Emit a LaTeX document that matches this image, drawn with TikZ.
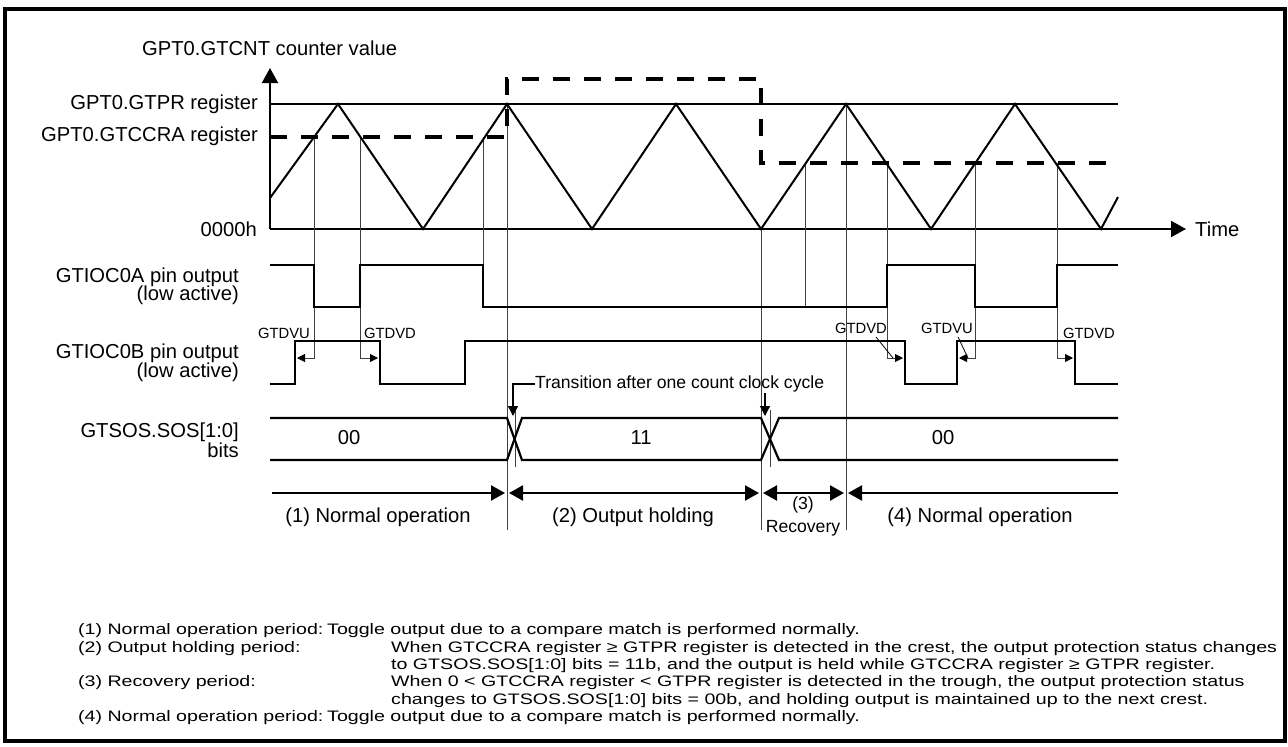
\documentclass[tikz,border=0pt]{standalone}
\usepackage{fontspec}
\setmainfont{Liberation Sans}
\newfontfamily\notefont[FakeStretch=1.29]{Liberation Sans}
\usetikzlibrary{arrows.meta}
\begin{document}
\begin{tikzpicture}[x=1pt,y=-1pt,
  lab/.style={font=\fontsize{20.2}{22}\selectfont, inner sep=0pt},
  small/.style={font=\fontsize{14.8}{16}\selectfont, inner sep=0pt},
  mid/.style={font=\fontsize{17.6}{19}\selectfont, inner sep=0pt},
  note/.style={font=\notefont\fontsize{15.2}{17}\selectfont, inner sep=0pt, anchor=base west},
  wave/.style={line width=2pt, line join=miter},
  sig/.style={line width=2.4pt, line join=miter},
  bus/.style={line width=2.2pt, line join=miter},
  guide/.style={line width=0.9pt, black!75},
  cmp/.style={line width=4pt, dash pattern=on 17pt off 14pt},
  axisarrow/.style={line width=2pt, -{Triangle[length=15pt,width=16pt]}},
  perline/.style={line width=2.2pt},
  dvarrow/.style={line width=0.9pt, black!75, -{Triangle[length=8pt,width=8pt,color=black]}},
  lead/.style={line width=0.8pt},
  trarrow/.style={line width=1.2pt, -{Triangle[length=10pt,width=10pt]}},
]
\useasboundingbox (0,0) rectangle (1288,747);
\draw[line width=3.5pt] (5,9) rectangle (1285,741);

% axes
\coordinate (org) at (270,229);
\coordinate (ytop) at (270,68);
\coordinate (xend) at (1186,229);
\draw[axisarrow] (org) -- (ytop);
\draw[axisarrow] (org) -- (xend);
\draw[wave] (270,104) -- (1118,104);

% vertical guides
\draw[guide] (507,104) -- (507,530);
\draw[guide] (761,229) -- (761,530);
\draw[guide] (846,104) -- (846,530);
\draw[guide] (483,137) -- (483,265);
\draw[guide] (805,163) -- (805,307);
\draw[guide] (515,410) -- (515,467);
\draw[guide] (770,410) -- (770,467);
\draw[dvarrow] (314,137) -- (314,358) -- (297,358);
\draw[dvarrow] (360,137) -- (360,358) -- (378,358);
\draw[dvarrow] (887,163) -- (887,358) -- (903,358);
\draw[dvarrow] (975,163) -- (975,358) -- (959,358);
\draw[dvarrow] (1057,163) -- (1057,358) -- (1073,358);

% triangle counter
\draw[wave] (270,198) -- (338,104) -- (423,229) -- (507,104) -- (592,229) -- (676,104)
  -- (761,229) -- (846,104) -- (931,229) -- (1015,104) -- (1101,229) -- (1118,197);

% compare register
\draw[cmp] (270,137) -- (507,137) -- (507,79) -- (761,79) -- (761,163) -- (1118,163);

% labels of the counter graph
\node[lab, anchor=west] (ttl) at (142,48) {GPT0.GTCNT counter value};
\node[lab, anchor=east] (lpr) at (258,104) {GPT0.GTPR register};
\node[lab, anchor=east] (lcc) at (258,136) {GPT0.GTCCRA register};
\node[lab, anchor=east] (lzero) at (257,229) {0000h};
\node[lab, anchor=west] (ltime) at (1195,229) {Time};

% GTIOC0A
\node[lab, anchor=east] (la1) at (239,277) {GTIOC0A pin output};
\node[lab, anchor=east] (la2) at (239,295) {(low active)};
\draw[sig] (270,265) -- (314,265) -- (314,307) -- (360,307) -- (360,265) -- (483,265) -- (483,307)
  -- (887,307) -- (887,265) -- (975,265) -- (975,307) -- (1057,307) -- (1057,265) -- (1118,265);

% GTIOC0B
\node[lab, anchor=east] (lb1) at (239,353) {GTIOC0B pin output};
\node[lab, anchor=east] (lb2) at (239,372) {(low active)};
\draw[sig] (270,384) -- (295,384) -- (295,341) -- (380,341) -- (380,384) -- (465,384) -- (465,341)
  -- (905,341) -- (905,384) -- (957,384) -- (957,341) -- (1075,341) -- (1075,384) -- (1118,384);

% dead time labels
\node[small] (dvu1) at (284,333) {GTDVU};
\node[small] (dvd1) at (390,333) {GTDVD};
\node[small] (dvd2) at (861,328) {GTDVD};
\node[small] (dvu2) at (947,328) {GTDVU};
\node[small] (dvd3) at (1089,333) {GTDVD};
\coordinate (ld2) at (893,358);
\coordinate (lu2) at (968,358);
\draw[lead] (876,337) -- (ld2);
\draw[lead] (958,337) -- (lu2);

% GTSOS bus
\node[lab, anchor=east] (ls1) at (239,432) {GTSOS.SOS[1:0]};
\node[lab, anchor=east] (ls2) at (239,450) {bits};
\draw[bus] (270,418) -- (507,418) -- (522,460) -- (761,460) -- (779,418) -- (1118,418);
\draw[bus] (270,460) -- (507,460) -- (522,418) -- (761,418) -- (779,460) -- (1118,460);
\node[lab] (v00a) at (349,438) {00};
\node[lab] (v11) at (641,438) {11};
\node[lab] (v00b) at (943,438) {00};

% transition note
\node[mid, anchor=west] (tr) at (535,384) {Transition after one count clock cycle};
\coordinate (tr1) at (513,416);
\coordinate (tr2a) at (765,393);
\coordinate (tr2b) at (765,416);
\draw[trarrow] (tr.west) -- (513,384) -- (tr1);
\draw[trarrow] (tr2a) -- (tr2b);

% periods
\draw[perline, -{Triangle[length=14pt,width=15pt]}] (272,493) -- (505,493);
\draw[perline, {Triangle[length=14pt,width=15pt]}-{Triangle[length=14pt,width=15pt]}] (509,493) -- (759,493);
\draw[perline, {Triangle[length=14pt,width=15pt]}-{Triangle[length=14pt,width=15pt]}] (763,493) -- (844,493);
\draw[perline, -{Triangle[length=14pt,width=15pt]}] (1118,493) -- (848,493);
\node[lab] (p1) at (378,517) {(1) Normal operation};
\node[lab] (p2) at (633,517) {(2) Output holding};
\node[mid] (p3a) at (803,505) {(3)};
\node[mid] (p3b) at (803,528) {Recovery};
\node[lab] (p4) at (980,517) {(4) Normal operation};

% notes
\node[note] (n1a) at (78,634.5) {(1) Normal operation period:};
\node[note] (n1b) at (327,634.5) {Toggle output due to a compare match is performed normally.};
\node[note] (n2a) at (78,652) {(2) Output holding period:};
\node[note] (n2b) at (391,652) {When GTCCRA register ≥ GTPR register is detected in the crest, the output protection status changes};
\node[note] (n2c) at (391,669) {to GTSOS.SOS[1:0] bits = 11b, and the output is held while GTCCRA register ≥ GTPR register.};
\node[note] (n3a) at (78,686.5) {(3) Recovery period:};
\node[note] (n3b) at (391,686.5) {When 0 < GTCCRA register < GTPR register is detected in the trough, the output protection status};
\node[note] (n3c) at (391,704) {changes to GTSOS.SOS[1:0] bits = 00b, and holding output is maintained up to the next crest.};
\node[note] (n4a) at (78,721.5) {(4) Normal operation period:};
\node[note] (n4b) at (327,721.5) {Toggle output due to a compare match is performed normally.};
\end{tikzpicture}
\end{document}
